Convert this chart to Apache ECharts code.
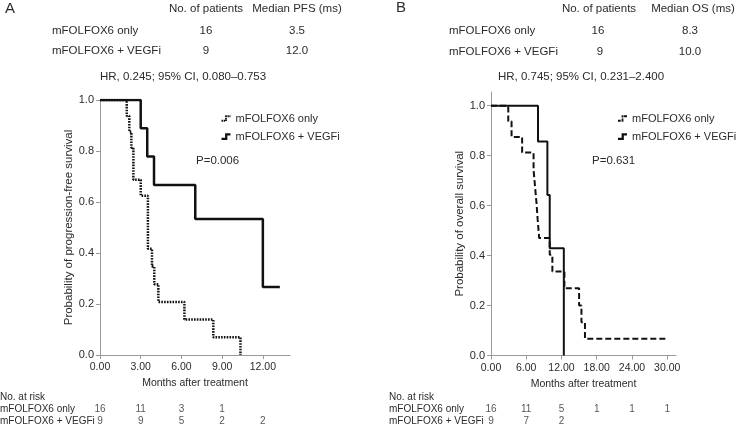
<!DOCTYPE html>
<html>
<head>
<meta charset="utf-8">
<script src="https://cdn.jsdelivr.net/npm/echarts@6/dist/echarts.min.js"></script>
<style>
html,body{margin:0;padding:0;background:#fff;}
#chart{width:736px;height:429px;}
</style>
</head>
<body>
<div id="chart"></div>
<script>
// ---------- data ----------
const groups = ['mFOLFOX6 only', 'mFOLFOX6 + VEGFi'];
const nPatients = [16, 9];
const medianPFS = ['3.5', '12.0'];
const medianOS = ['8.3', '10.0'];
const hrTextA = 'HR, 0.245; 95% CI, 0.080\u20130.753';
const hrTextB = 'HR, 0.745; 95% CI, 0.231\u20132.400';
const pTextA = 'P=0.006';
const pTextB = 'P=0.631';

// Panel A: progression-free survival (step points: time, survival)
const pfsOnlyT = [0, 1.97, 2.16, 2.31, 2.46, 3.0, 3.53, 3.83, 4.0, 4.3, 6.22, 8.35, 10.35];
const pfsOnlyS = [1, 0.9375, 0.875, 0.8125, 0.6875, 0.625, 0.4167, 0.3472, 0.2778, 0.2083, 0.1389, 0.0694, 0];
const pfsVegfT = [0, 3.0, 3.48, 3.98, 7.02, 12.0, 13.25];
const pfsVegfS = [1, 0.889, 0.778, 0.667, 0.533, 0.267, 0.267];

// Panel B: overall survival
const osOnlyT = [0, 2.94, 3.5, 5.3, 7.25, 7.5, 7.75, 7.95, 8.2, 10.0, 10.45, 12.5, 15.0, 15.4, 16.0, 30.0];
const osOnlyS = [1, 0.9375, 0.875, 0.8125, 0.742, 0.676, 0.61, 0.543, 0.47, 0.403, 0.336, 0.269, 0.2, 0.133, 0.067, 0.067];
const osVegfT = [0, 8.0, 9.6, 10.0, 12.4];
const osVegfS = [1, 0.857, 0.643, 0.429, 0];

// Tick labels
const ticksA = [0, 3, 6, 9, 12];
const ticksB = [0, 6, 12, 18, 24, 30];
const yTicks = [0, 0.2, 0.4, 0.6, 0.8, 1.0];

// Numbers at risk
const riskTimesA = [0, 3, 6, 9, 12];
const riskOnlyA = [16, 11, 3, 1, null];
const riskVegfA = [9, 9, 5, 2, 2];
const riskTimesB = [0, 6, 12, 18, 24, 30];
const riskOnlyB = [16, 11, 5, 1, 1, 1];
const riskVegfB = [9, 7, 2, null, null, null];

// ---------- helpers ----------
const FONT = '"Liberation Sans", Arial, Helvetica, sans-serif';
const TXT = '#2b2b2b';
const AX = '#9a9a9a';
const pts = (t, s) => t.map((v, i) => [v, s[i]]);
const riskPts = (times, row, vals) => times.map((t, i) => [t, row, vals[i]]).filter(d => d[2] !== null);

function txt(x, y, text, size, align) {
  return { type: 'text', x: x, y: y, silent: true,
    style: { text: text, fill: TXT, font: size + 'px ' + FONT, align: align || 'left', verticalAlign: 'middle' } };
}

function mainX(grid, max, ticks) {
  return {
    type: 'value', gridIndex: grid, min: 0, max: max,
    name: 'Months after treatment', nameLocation: 'middle', nameGap: 21,
    nameTextStyle: { color: TXT, fontSize: 10.5, fontFamily: FONT },
    axisLine: { show: true, lineStyle: { color: AX, width: 1 } },
    axisTick: { show: true, length: 4, lineStyle: { color: AX }, customValues: ticks },
    axisLabel: { color: TXT, fontSize: 10.5, fontFamily: FONT, margin: 7, customValues: ticks,
      formatter: v => Number(v).toFixed(2) },
    splitLine: { show: false }
  };
}
function mainY(grid, max, name) {
  return {
    type: 'value', gridIndex: grid, min: 0, max: max,
    name: name, nameLocation: 'middle', nameGap: 24, nameRotate: 90,
    nameTextStyle: { color: TXT, fontSize: 11.5, fontFamily: FONT },
    axisLine: { show: true, lineStyle: { color: AX, width: 1 } },
    axisTick: { show: true, length: 4, lineStyle: { color: AX }, customValues: yTicks },
    axisLabel: { color: TXT, fontSize: 11, fontFamily: FONT, margin: 6, customValues: yTicks,
      formatter: v => Number(v).toFixed(1) },
    splitLine: { show: false }
  };
}
function riskX(grid, max) {
  return { type: 'value', gridIndex: grid, min: 0, max: max, show: false };
}
function riskY(grid) {
  return {
    type: 'category', gridIndex: grid, data: groups, inverse: true, show: false
  };
}
function riskSeries(xi, data) {
  return {
    type: 'scatter', xAxisIndex: xi, yAxisIndex: xi, data: data, symbolSize: 1,
    itemStyle: { color: 'rgba(0,0,0,0)' }, silent: true,
    label: { show: true, position: 'inside', color: TXT, fontSize: 10, fontFamily: FONT,
      formatter: p => String(p.value[2]) }
  };
}

// legend icons: small step glyphs
const iconSolid = 'path://M0,6 L4,6 L4,1 L10,1 L10,3.5 L6.5,3.5 L6.5,8.5 L0,8.5 Z';
const iconDotted = 'path://M0,6h1.6v2h-1.6z M2.4,6h1.6v2h-1.6z M4,3.6h2v1.8h-2z M4,1h2v1.8h-2z M6.6,1h1.6v2h-1.6z M8.8,1h1.2v2h-1.2z M4,5.6h2v1.6h-2z';
const iconDashed = 'path://M0,6h3v2h-3z M4,4.5h2v3.5h-2z M4,1h2v2.5h-2z M6.5,1h3.5v2h-3.5z';

function legendAt(left) {
  return {
    left: left, top: 108, orient: 'vertical', itemWidth: 9, itemHeight: 9, itemGap: 7,
    selectedMode: false,
    textStyle: { color: TXT, fontSize: 11, fontFamily: FONT, padding: [0, 0, 0, 0] },
    data: []
  };
}
const legA = legendAt(216.5);
legA.data = [{ name: groups[0], icon: iconDotted }, { name: groups[1], icon: iconSolid }];
const legB = legendAt(613);
legB.data = [{ name: groups[0], icon: iconDashed }, { name: groups[1], icon: iconSolid }];

// ---------- graphic texts (tables) ----------
const graphics = [
  txt(5, 9, 'A', 15),
  txt(206, 9, 'No. of patients', 11.5, 'center'),
  txt(297, 9, 'Median PFS (ms)', 11.5, 'center'),
  txt(52, 31, groups[0], 11.5), txt(206, 31, String(nPatients[0]), 11.5, 'center'), txt(297, 31, medianPFS[0], 11.5, 'center'),
  txt(52, 51, groups[1], 11.5), txt(206, 51, String(nPatients[1]), 11.5, 'center'), txt(297, 51, medianPFS[1], 11.5, 'center'),
  txt(183, 77, hrTextA, 11.5, 'center'),
  txt(196, 161, pTextA, 11.5),
  txt(0, 397, 'No. at risk', 10),
  txt(0, 409, groups[0], 10),
  txt(0, 421, groups[1], 10),

  txt(396, 8, 'B', 15),
  txt(599, 9, 'No. of patients', 11.5, 'center'),
  txt(693, 9, 'Median OS (ms)', 11.5, 'center'),
  txt(449, 31, groups[0], 11.5), txt(598, 31, String(nPatients[0]), 11.5, 'center'), txt(690, 31, medianOS[0], 11.5, 'center'),
  txt(449, 52, groups[1], 11.5), txt(600, 52, String(nPatients[1]), 11.5, 'center'), txt(690, 52, medianOS[1], 11.5, 'center'),
  txt(581, 77, hrTextB, 11.5, 'center'),
  txt(592, 161, pTextB, 11.5),
  txt(389, 397, 'No. at risk', 10),
  txt(389, 409, groups[0], 10),
  txt(389, 421, groups[1], 10)
];

const option = {
  backgroundColor: '#fff',
  animation: false,
  textStyle: { fontFamily: FONT },
  legend: [legA, legB],
  grid: [
    { left: 100, top: 100, width: 190, height: 255 },
    { left: 491, top: 92, width: 185, height: 263.5 },
    { left: 100, top: 403, width: 190, height: 24 },
    { left: 491, top: 403, width: 185, height: 24 }
  ],
  xAxis: [mainX(0, 14, ticksA), mainX(1, 31.5, ticksB), riskX(2, 14), riskX(3, 31.5)],
  yAxis: [
    mainY(0, 1.0, 'Probability of progression-free survival'),
    mainY(1, 1.055, 'Probability of overall survival'),
    riskY(2), riskY(3)
  ],
  series: [
    { name: groups[0], type: 'line', xAxisIndex: 0, yAxisIndex: 0, step: 'end', symbol: 'none',
      data: pts(pfsOnlyT, pfsOnlyS), color: '#111',
      lineStyle: { color: '#111', width: 2.5, type: [1.6, 1.2], cap: 'butt' } },
    { name: groups[1], type: 'line', xAxisIndex: 0, yAxisIndex: 0, step: 'end', symbol: 'none',
      data: pts(pfsVegfT, pfsVegfS), color: '#111',
      lineStyle: { color: '#111', width: 2.5, type: 'solid' } },
    { name: groups[0], type: 'line', xAxisIndex: 1, yAxisIndex: 1, step: 'end', symbol: 'none',
      data: pts(osOnlyT, osOnlyS), color: '#111',
      lineStyle: { color: '#111', width: 2, type: [6, 3] } },
    { name: groups[1], type: 'line', xAxisIndex: 1, yAxisIndex: 1, step: 'end', symbol: 'none',
      data: pts(osVegfT, osVegfS), color: '#111',
      lineStyle: { color: '#111', width: 2, type: 'solid' } },
    riskSeries(2, riskPts(riskTimesA, 0, riskOnlyA).concat(riskPts(riskTimesA, 1, riskVegfA))),
    riskSeries(3, riskPts(riskTimesB, 0, riskOnlyB).concat(riskPts(riskTimesB, 1, riskVegfB)))
  ],
  graphic: graphics
};

const chart = echarts.init(document.getElementById('chart'), null, { renderer: 'canvas' });
chart.setOption(option);
</script>
</body>
</html>
